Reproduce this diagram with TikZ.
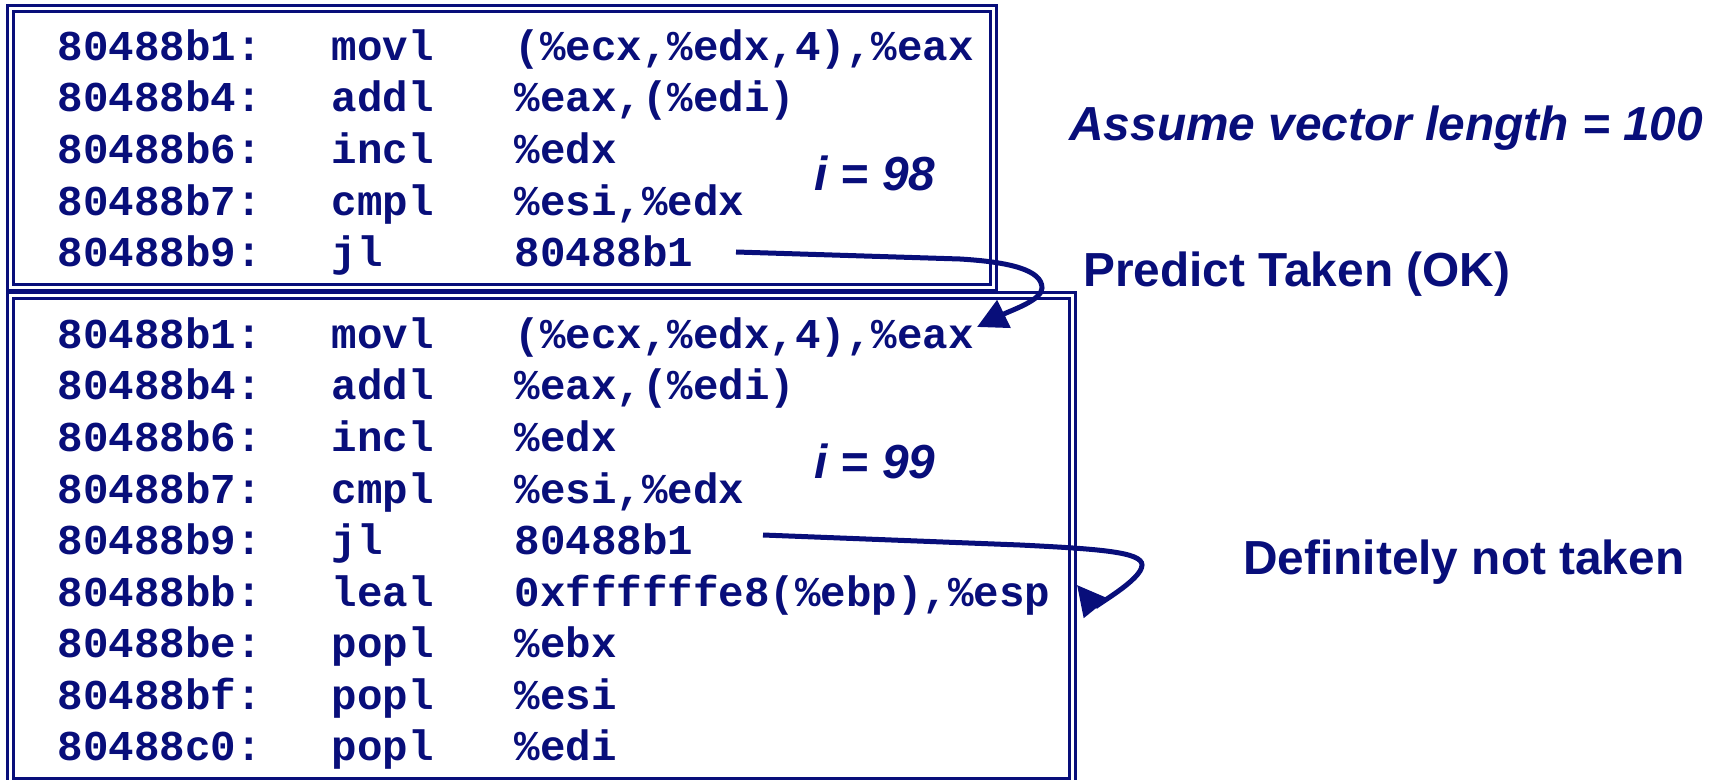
\documentclass[tikz,border=0pt]{standalone}
\usepackage{fontspec}
\setmainfont{Liberation Sans}
\newfontfamily\codefont{Liberation Mono}
\usetikzlibrary{arrows.meta}
\definecolor{navy}{RGB}{8,14,122}
\newcommand\codeline[3]{\makebox[137pt][l]{#1}\makebox[91.5pt][l]{#2}#3}
\tikzset{
  code/.style={anchor=base west, inner sep=0pt, text=navy, font=\codefont\bfseries\fontsize{21.25pt}{24pt}\selectfont},
  lbl/.style={anchor=base west, inner sep=0pt, text=navy, font=\bfseries\fontsize{23.9pt}{26pt}\selectfont},
  ilbl/.style={lbl, font=\bfseries\itshape\fontsize{23.9pt}{26pt}\selectfont},
  boxline/.style={draw=navy, line width=1.6pt, double=white, double distance=1.3pt},
  jump/.style={draw=navy, line width=2.5pt, -{Triangle[length=15pt,width=15pt]}}
}
\begin{document}
\begin{tikzpicture}[x=0.5pt,y=-0.5pt]
\clip (0,0) rectangle (1717,780);
\useasboundingbox (0,0) rectangle (1717,780);
% boxes
\draw[boxline] (10.5,8.5) rectangle (993.5,287.5);
\draw[boxline] (10.5,295.5) rectangle (1072.5,781.5);
% top block
\node[code] (a1) at (57.5,61)  {\codeline{80488b1:}{movl}{(\%ecx,\%edx,4),\%eax}};
\node[code] (a2) at (57.5,112) {\codeline{80488b4:}{addl}{\%eax,(\%edi)}};
\node[code] (a3) at (57.5,164) {\codeline{80488b6:}{incl}{\%edx}};
\node[code] (a4) at (57.5,215.5) {\codeline{80488b7:}{cmpl}{\%esi,\%edx}};
\node[code] (a5) at (57.5,267) {\codeline{80488b9:}{jl}{80488b1}};
% bottom block
\node[code] (b1) at (57.5,349) {\codeline{80488b1:}{movl}{(\%ecx,\%edx,4),\%eax}};
\node[code] (b2) at (57.5,400) {\codeline{80488b4:}{addl}{\%eax,(\%edi)}};
\node[code] (b3) at (57.5,451.5) {\codeline{80488b6:}{incl}{\%edx}};
\node[code] (b4) at (57.5,503) {\codeline{80488b7:}{cmpl}{\%esi,\%edx}};
\node[code] (b5) at (57.5,554.5) {\codeline{80488b9:}{jl}{80488b1}};
\node[code] (b6) at (57.5,606) {\codeline{80488bb:}{leal}{0xffffffe8(\%ebp),\%esp}};
\node[code] (b7) at (57.5,657.5) {\codeline{80488be:}{popl}{\%ebx}};
\node[code] (b8) at (57.5,709) {\codeline{80488bf:}{popl}{\%esi}};
\node[code] (b9) at (57.5,760) {\codeline{80488c0:}{popl}{\%edi}};
% labels
\node[ilbl] (i98) at (814,191) {i = 98};
\node[ilbl] (i99) at (814,478) {i = 99};
\node[ilbl] (assume) at (1069,141) {Assume vector length = 100};
\node[lbl] (pred) at (1083,287) {Predict Taken (OK)};
\node[lbl] (notk) at (1243,574) {Definitely not taken};
% connectors
\coordinate (s1) at (736,252);
\coordinate (t1) at (977,327);
\coordinate (s2) at (763,535);
\coordinate (t2) at (1077,585);
\draw[jump] (s1) -- (960,259) .. controls (1010,262) and (1042,270) .. (1042,288)
  .. controls (1042,300) and (1012,310) .. (t1);
\draw[jump] (s2) -- (1020,545) .. controls (1100,549) and (1142,552) .. (1142,565)
  .. controls (1142,580) and (1094,606) .. (t2);
\end{tikzpicture}
\end{document}
